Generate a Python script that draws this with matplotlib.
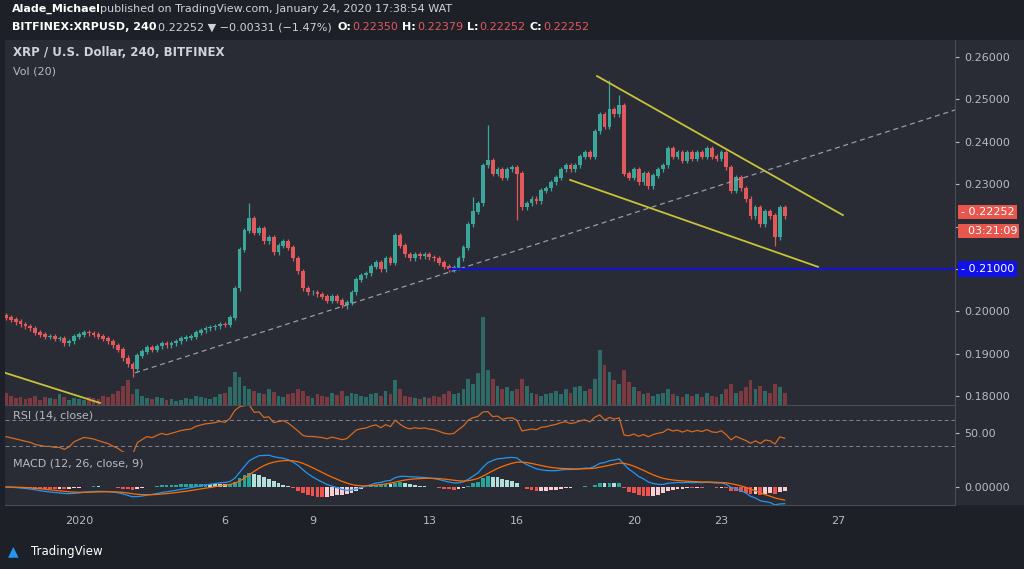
import numpy as np
import matplotlib
matplotlib.use("Agg")
import matplotlib.pyplot as plt
from matplotlib.patches import Rectangle

# ---- data (4h candles, x in days from Jan 1 2020) ----
start_day = -2.5
closes = [0.1985, 0.1980, 0.1975,
 0.197, 0.1965, 0.196, 0.195, 0.1945, 0.194,
 0.1940, 0.1935, 0.1935, 0.1925, 0.193, 0.194,
 0.1945, 0.195, 0.1948, 0.1945, 0.194, 0.1935,
 0.193, 0.192, 0.191, 0.189, 0.1875, 0.1865,
 0.1895, 0.1905, 0.1915, 0.191, 0.1918, 0.1925,
 0.192, 0.1925, 0.193, 0.1935, 0.1938, 0.194,
 0.195, 0.1955, 0.196, 0.1962, 0.1965, 0.197,
 0.1968, 0.1985, 0.2055, 0.2145, 0.219, 0.222,
 0.2185, 0.2195, 0.2165, 0.2175, 0.214, 0.2155,
 0.2165, 0.215, 0.2125, 0.2095, 0.2055, 0.2045,
 0.2045, 0.204, 0.2035, 0.2025, 0.2035, 0.2025,
 0.2015, 0.202, 0.2045, 0.2075, 0.2085, 0.209,
 0.2105, 0.2115, 0.210, 0.2125, 0.2115, 0.218,
 0.2155, 0.2135, 0.2125, 0.2135, 0.213, 0.2135,
 0.2128, 0.2125, 0.2115, 0.2105, 0.210, 0.2103,
 0.2125, 0.215, 0.2205, 0.2235, 0.2255, 0.2345,
 0.2355, 0.2325, 0.2335, 0.2315, 0.2335, 0.234,
 0.2325, 0.2245, 0.2255, 0.2265, 0.226, 0.2285,
 0.229, 0.2305, 0.2315, 0.2335, 0.2345, 0.2335,
 0.2345, 0.2365, 0.2375, 0.2365, 0.2425, 0.2465,
 0.2435, 0.2475, 0.2465, 0.2485, 0.2325, 0.2315,
 0.2335, 0.2305, 0.2325, 0.2295, 0.232, 0.2335,
 0.2345, 0.2385, 0.2365, 0.2375, 0.2355, 0.2375,
 0.236, 0.2375, 0.2365, 0.2385, 0.2365, 0.236,
 0.2375, 0.234, 0.2285, 0.2315, 0.229, 0.2265,
 0.2225, 0.2245, 0.2205, 0.2235, 0.2225, 0.2175,
 0.2245, 0.2225]
first_open = 0.1990
high_override = {50: 0.2255, 99: 0.2440, 121: 0.2430, 124: 0.2545, 126: 0.2510, 96: 0.2270}
low_override = {26: 0.1845, 158: 0.2155, 105: 0.2215, 70: 0.2005}
volumes = [14, 10, 8,
 9, 7, 8, 10, 6, 9,
 8, 7, 12, 9, 6, 8,
 7, 6, 9, 8, 7, 10,
 9, 12, 16, 22, 28, 12,
 18, 10, 8, 7, 9, 8,
 6, 7, 5, 6, 8, 7,
 10, 9, 8, 7, 9, 12,
 14, 20, 38, 32, 22, 18,
 16, 14, 12, 18, 15, 10,
 9, 12, 14, 18, 16, 10,
 8, 12, 10, 9, 14, 11,
 16, 10, 14, 12, 10, 9,
 12, 14, 10, 16, 12, 28,
 18, 10, 9, 8, 7, 9,
 8, 10, 9, 12, 16, 12,
 14, 18, 30, 24, 36, 100,
 40, 30, 22, 18, 20, 16,
 18, 30, 22, 14, 12, 10,
 12, 14, 16, 12, 18, 14,
 20, 22, 16, 18, 30, 62,
 46, 38, 28, 24, 40, 26,
 20, 16, 12, 14, 10, 12,
 14, 18, 12, 10, 9, 12,
 10, 12, 9, 14, 10, 9,
 12, 18, 24, 14, 16, 20,
 28, 18, 22, 16, 14, 24,
 20, 14]
tick_days = [0, 5, 8, 12, 15, 19, 22, 26]
tick_labels = ["2020", "6", "9", "13", "16", "20", "23", "27"]
price_ticks = [0.18, 0.19, 0.20, 0.21, 0.22, 0.23, 0.24, 0.25, 0.26]
upper_tl = ([17.74, 26.16], [0.2555, 0.2227])
lower_tl = ([16.82, 25.31], [0.2310, 0.2105])
old_tl = ([-2.53, 0.72], [0.1855, 0.1784])
dashed_tl = ([1.92, 30.0], [0.1855, 0.2475])
support_level = 0.21
support_start = 12.7
last_price = 0.22252

UP = "#3ba79a"; DN = "#e2595b"
BG_OUT = "#1e2027"; BG = "#292c35"; TXT = "#b8bac2"

n = len(closes)
c = np.array(closes)
o = np.concatenate([[first_open], c[:-1]])
x = start_day + np.arange(n) / 6.0
wick = 0.0006
hi = np.maximum(o, c) + wick
lo = np.minimum(o, c) - wick
for k, v in high_override.items(): hi[k] = v
for k, v in low_override.items(): lo[k] = v
up = c >= o

# indicators
def ema(a, p):
    out = np.zeros_like(a); al = 2 / (p + 1); out[0] = a[0]
    for i in range(1, len(a)): out[i] = al * a[i] + (1 - al) * out[i - 1]
    return out
d = np.diff(c, prepend=c[0])
g = np.where(d > 0, d, 0); l = np.where(d < 0, -d, 0)
ag = np.zeros(n); al_ = np.zeros(n)
ag[0] = 0.0004; al_[0] = 0.0005
for i in range(1, n):
    ag[i] = (ag[i-1]*13 + g[i]) / 14; al_[i] = (al_[i-1]*13 + l[i]) / 14
rsi = 100 - 100 / (1 + ag / np.maximum(al_, 1e-9))
macd = ema(c, 12) - ema(c, 26)
sig = ema(macd, 9)
hist = macd - sig

fig = plt.figure(figsize=(10.24, 5.69), dpi=100, facecolor=BG_OUT)
L, R = 5/1024, 955/1024
def fy(p): return 1 - p/569
bgax = fig.add_axes([L, fy(505), 1 - L, fy(40) - fy(505)], facecolor=BG, zorder=-10)
bgax.axis("off"); bgax.add_patch(Rectangle((0, 0), 1, 1, color=BG, transform=bgax.transAxes))
ax = fig.add_axes([L, fy(405), R - L, fy(40) - fy(405)], facecolor=BG)
ar = fig.add_axes([L, fy(452), R - L, fy(405) - fy(452)], facecolor=BG, sharex=ax)
am = fig.add_axes([L, fy(505), R - L, fy(452) - fy(505)], facecolor=BG, sharex=ax)

w = 0.13
ax.vlines(x, lo, hi, colors=np.where(up, UP, DN), lw=0.9, zorder=3)
ax.bar(x, np.abs(c - o) + 0.00012, bottom=np.minimum(o, c), width=w, color=np.where(up, UP, DN), zorder=4)
av = ax.twinx()
av.bar(x, volumes, width=w, color=np.where(up, "#2f6b66", "#7a3a40"), zorder=1)
av.set_ylim(0, 415); av.axis("off")
ax.set_zorder(av.get_zorder() + 1); ax.patch.set_visible(False)

ax.plot(*upper_tl, color="#c8c23a", lw=1.3, zorder=5)
ax.plot(*lower_tl, color="#c8c23a", lw=1.3, zorder=5)
ax.plot(*old_tl, color="#c8c23a", lw=1.3, zorder=5)
ax.plot(*dashed_tl, color="#9a9ca4", lw=0.9, ls=(0, (4, 3)), zorder=5)
ax.plot([support_start, 30.1], [support_level, support_level], color="#1515d0", lw=1.6, zorder=5)

ax.set_xlim(-2.534, 30.0)
ax.set_ylim(0.17792, 0.264)
for a in (ax, ar, am):
    a.yaxis.tick_right()
    for s in a.spines.values(): s.set_color("#4a4d56")
    a.spines["left"].set_visible(False); a.spines["top"].set_visible(False)
    a.tick_params(colors=TXT, labelsize=8, length=3)
    a.tick_params(axis="x", length=0)
ax.set_yticks(price_ticks)
ax.set_yticklabels(["" if abs(p - 0.21) < 1e-9 or abs(p - 0.22) < 1e-9 else f"{p:.5f}" for p in price_ticks])
plt.setp(ax.get_xticklabels(), visible=False)
plt.setp(ar.get_xticklabels(), visible=False)

# price badges
tr = ax.get_yaxis_transform()
ax.text(1.006, last_price + 0.0009, f"- {last_price:.5f}", transform=tr, color="white", fontsize=8,
        va="center", bbox=dict(boxstyle="square,pad=0.2", fc="#e8564e", ec="none"), clip_on=False)
ax.text(1.006, last_price - 0.0036, "  03:21:09", transform=tr, color="white", fontsize=8,
        va="center", bbox=dict(boxstyle="square,pad=0.2", fc="#e8564e", ec="none"), clip_on=False)
ax.text(1.006, support_level, f"- {support_level:.5f}", transform=tr, color="white", fontsize=8,
        va="center", bbox=dict(boxstyle="square,pad=0.25", fc="#1010e8", ec="none"), clip_on=False)

ax.text(0.008, 0.955, "XRP / U.S. Dollar, 240, BITFINEX", transform=ax.transAxes, color="#d0d2d8", fontsize=8.5, fontweight="bold")
ax.text(0.008, 0.905, "Vol (20)", transform=ax.transAxes, color=TXT, fontsize=8)

# RSI
ar.plot(x, rsi, color="#d8691f", lw=0.9)
for lvl in (70, 30):
    ar.axhline(lvl, color="#80838c", lw=0.7, ls=(0, (4, 3)))
ar.set_ylim(20.8, 93)
ar.set_yticks([50]); ar.set_yticklabels(["50.00"])
ar.text(0.008, 0.72, "RSI (14, close)", transform=ar.transAxes, color=TXT, fontsize=8)

# MACD
hc = []
for i in range(n):
    prev = hist[i-1] if i else 0
    if hist[i] >= 0: hc.append("#26a69a" if hist[i] >= prev else "#b2dfdb")
    else: hc.append("#ef5350" if hist[i] <= prev else "#ffcdd2")
am.bar(x, hist, width=w, color=hc)
am.plot(x, macd, color="#2196f3", lw=0.9)
am.plot(x, sig, color="#ff6d00", lw=0.9)
mx = np.abs(np.concatenate([macd, sig])).max() * 1.1
am.set_ylim(-mx * 18 / 35, mx)
am.set_yticks([0]); am.set_yticklabels(["0.00000"])
am.text(0.008, 0.72, "MACD (12, 26, close, 9)", transform=am.transAxes, color=TXT, fontsize=8)
am.set_xticks(tick_days); am.set_xticklabels(tick_labels)
am.tick_params(axis="x", pad=8)

hdr = dict(fontsize=8, va="center")
fig.text(0.012, fy(9), "Alade_Michael", color="white", fontweight="bold", **hdr)
fig.text(0.098, fy(9), "published on TradingView.com, January 24, 2020 17:38:54 WAT", color="#d0d2d8", **hdr)
fig.text(0.012, fy(27), "BITFINEX:XRPUSD, 240", color="white", fontweight="bold", **hdr)
fig.text(0.154, fy(27), "0.22252 \u25bc \u22120.00331 (\u22121.47%)", color="#d0d2d8", **hdr)
fig.text(0.330, fy(27), "O:", color="white", fontweight="bold", **hdr)
fig.text(0.344, fy(27), "0.22350", color=DN, **hdr)
fig.text(0.393, fy(27), "H:", color="white", fontweight="bold", **hdr)
fig.text(0.407, fy(27), "0.22379", color=DN, **hdr)
fig.text(0.456, fy(27), "L:", color="white", fontweight="bold", **hdr)
fig.text(0.468, fy(27), "0.22252", color=DN, **hdr)
fig.text(0.517, fy(27), "C:", color="white", fontweight="bold", **hdr)
fig.text(0.531, fy(27), "0.22252", color=DN, **hdr)
fig.text(0.008, fy(551), "\u25b2", color="#2196f3", fontsize=10, va="center")
fig.text(0.03, fy(551), "TradingView", color="white", fontsize=8.5, va="center")

fig.savefig("out.png", dpi=100, facecolor=BG_OUT)
